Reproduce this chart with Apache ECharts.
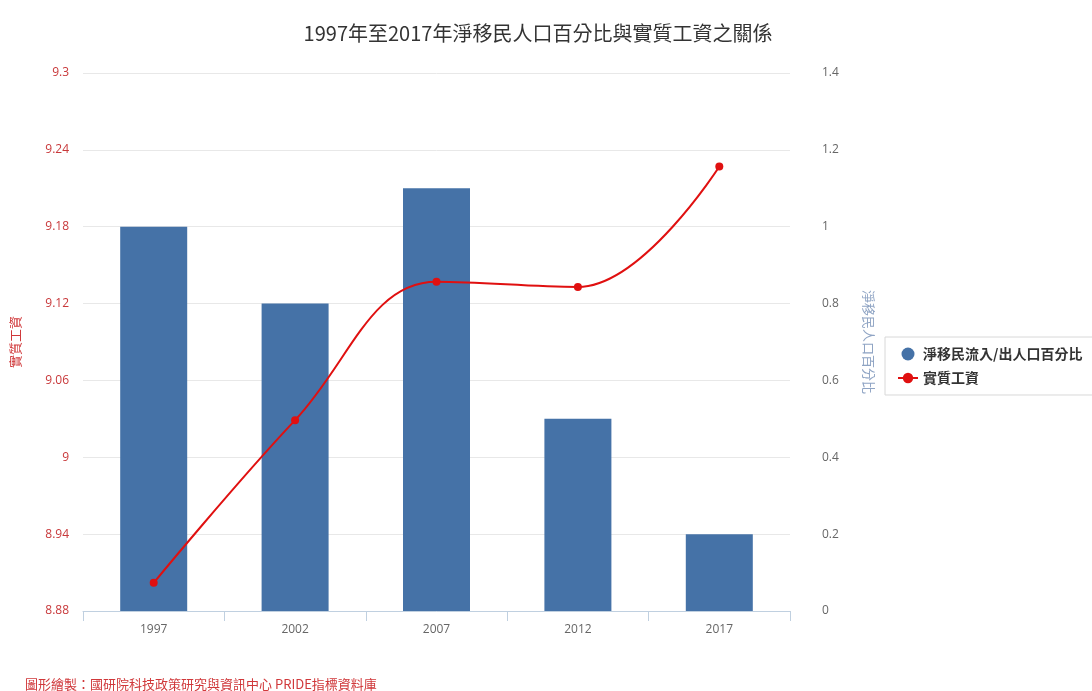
<!DOCTYPE html>
<html>
<head>
<meta charset="utf-8">
<script src="https://cdn.jsdelivr.net/npm/echarts@6/dist/echarts.min.js"></script>
<style>
  html, body { margin: 0; padding: 0; background: #fff; }
  #chart { width: 1092px; height: 691px; }
</style>
</head>
<body>
<div id="chart"></div>
<script>
// Years on the category axis
const years = ['1997', '2002', '2007', '2012', '2017'];
// Net migration as a percentage of population (right axis)
const netMigration = [1.0, 0.8, 1.1, 0.5, 0.2];
// Real wage, log scale (left axis)
const realWage = [8.902, 9.029, 9.137, 9.133, 9.227];

const wageName = '實質工資';
const migrationName = '淨移民流入/出人口百分比';

const font = '"Open Sans", "Noto Sans CJK TC", sans-serif';
const cjk = '"Noto Sans CJK TC", "Open Sans", sans-serif';

const chart = echarts.init(document.getElementById('chart'), null, { renderer: 'canvas' });

chart.setOption({
  backgroundColor: '#ffffff',
  animation: false,
  title: [
    {
      text: '1997年至2017年淨移民人口百分比與實質工資之關係',
      left: 533,
      textAlign: 'center',
      top: 18,
      textStyle: { fontFamily: cjk, fontSize: 20, fontWeight: 'normal', color: '#333333' }
    },
    {
      text: '圖形繪製：國研院科技政策研究與資訊中心 PRIDE指標資料庫',
      left: 20,
      top: 673,
      textStyle: { fontFamily: cjk, fontSize: 13, fontWeight: 'normal', color: '#d0383a' }
    }
  ],
  legend: {
    orient: 'vertical',
    left: 885,
    top: 337,
    padding: [10, 12, 10, 12],
    itemGap: 10,
    itemWidth: 20,
    itemHeight: 13,
    borderColor: '#d8d8d8',
    borderWidth: 1,
    textStyle: { fontFamily: cjk, fontSize: 14, fontWeight: 'bold', color: '#333333' },
    data: [
      { name: migrationName, icon: 'circle' },
      { name: wageName }
    ]
  },
  grid: { left: 83, right: 302, top: 73, bottom: 80, containLabel: false },
  xAxis: {
    type: 'category',
    data: years,
    boundaryGap: true,
    axisLine: { lineStyle: { color: '#c0d0e0' } },
    axisTick: { show: true, length: 10, lineStyle: { color: '#c0d0e0' } },
    axisLabel: { margin: 13, fontFamily: font, fontSize: 12, color: '#666666' }
  },
  yAxis: [
    {
      type: 'value',
      position: 'left',
      min: 8.88,
      max: 9.3,
      interval: 0.06,
      name: wageName,
      nameLocation: 'middle',
      nameGap: 61,
      nameRotate: 90,
      nameTextStyle: { fontFamily: cjk, fontSize: 13, color: '#d0383a' },
      axisLine: { show: false },
      axisTick: { show: false },
      axisLabel: { margin: 14, fontFamily: font, fontSize: 12, color: '#c8383a' },
      splitLine: { lineStyle: { color: '#e8e8e8' } }
    },
    {
      type: 'value',
      position: 'right',
      min: 0,
      max: 1.4,
      interval: 0.2,
      name: '淨移民人口百分比',
      nameLocation: 'middle',
      nameGap: 72,
      nameRotate: -90,
      nameTextStyle: { fontFamily: cjk, fontSize: 13, color: '#8fa4c4' },
      axisLine: { show: false },
      axisTick: { show: false },
      axisLabel: { margin: 32, fontFamily: font, fontSize: 12, color: '#666666' },
      splitLine: { show: false }
    }
  ],
  series: [
    {
      name: migrationName,
      type: 'bar',
      yAxisIndex: 1,
      data: netMigration,
      barWidth: 67,
      itemStyle: { color: '#4572a7' }
    },
    {
      name: wageName,
      type: 'line',
      yAxisIndex: 0,
      data: realWage,
      smooth: 0.4,
      symbol: 'circle',
      symbolSize: 8,
      lineStyle: { color: '#e01010', width: 2 },
      itemStyle: { color: '#e01010' }
    }
  ]
});
</script>
</body>
</html>
